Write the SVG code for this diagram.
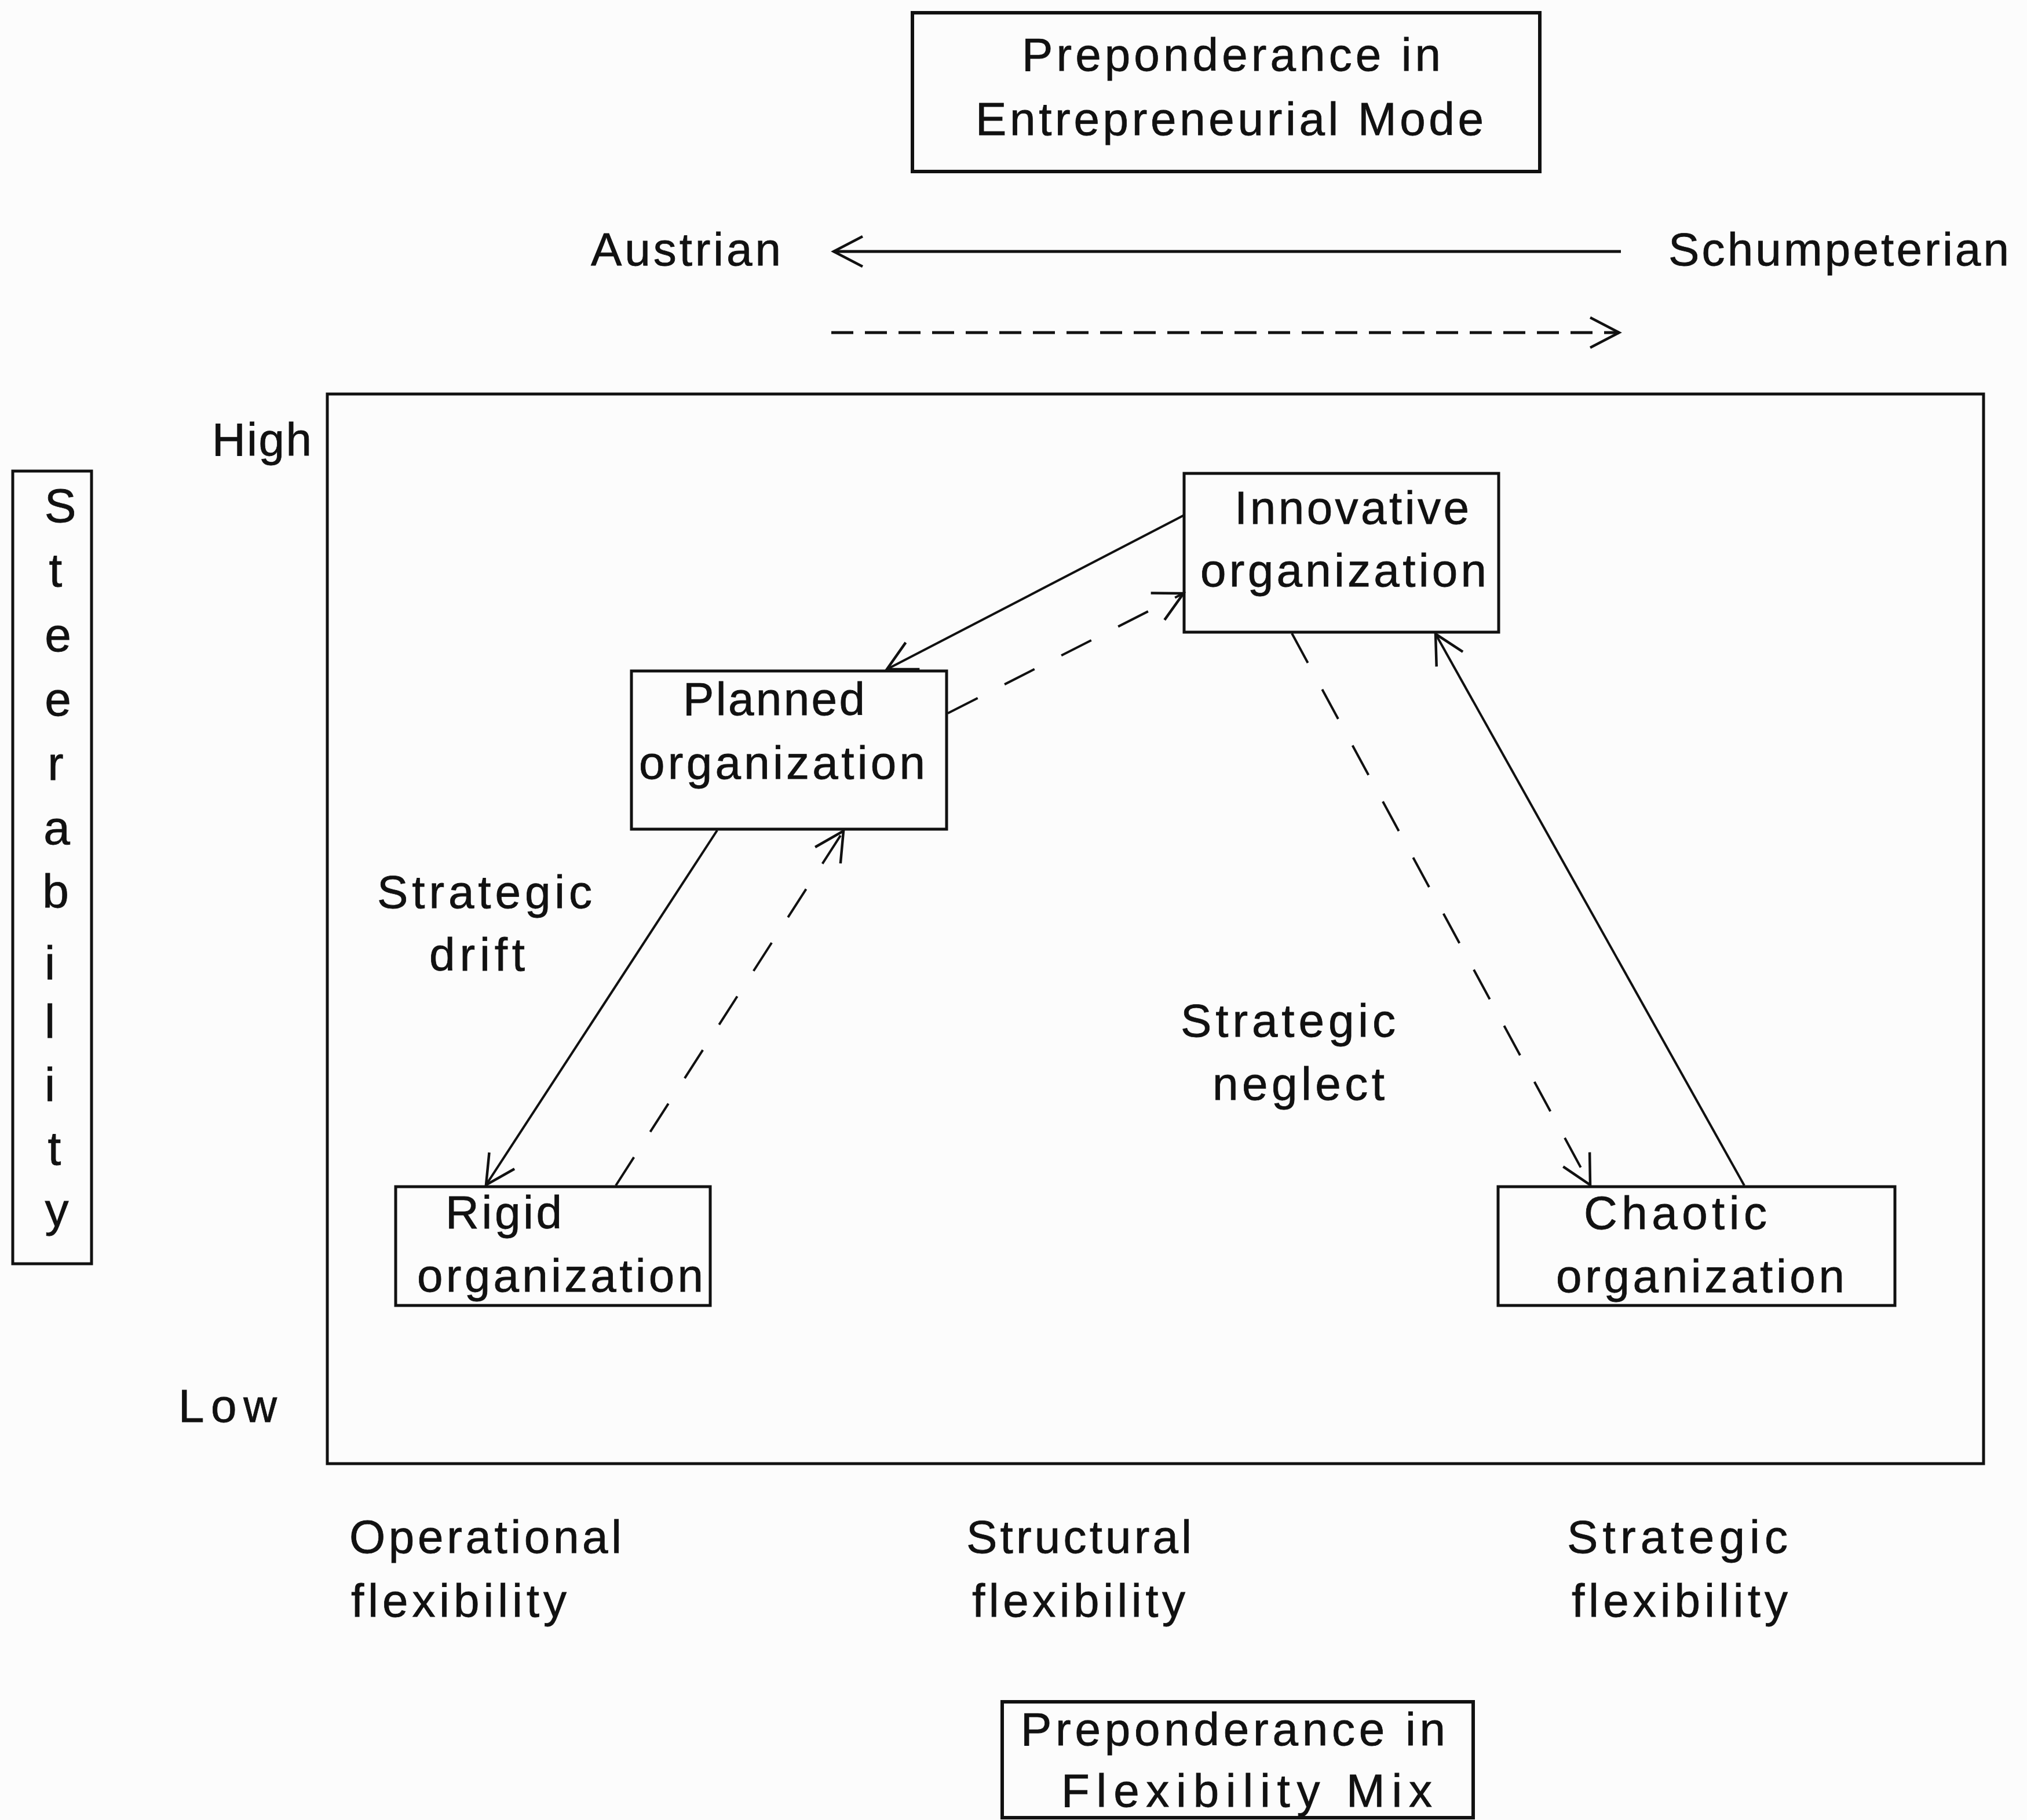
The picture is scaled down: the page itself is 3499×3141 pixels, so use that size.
<svg xmlns="http://www.w3.org/2000/svg" width="3499" height="3141" viewBox="0 0 3499 3141">
  <style>
    .box { fill: none; stroke: #111; stroke-width: 5; }
    .heavy { stroke-width: 6; }
    .lbl { font-family: "Liberation Sans", Arial, sans-serif; font-size: 80px; fill: #111; stroke: #111; stroke-width: 0.8; }
    .vert { font-size: 82px; text-anchor: middle; }
    .link { fill: none; stroke: #111; stroke-width: 4; }
    .axisline { fill: none; stroke: #111; stroke-width: 5; }
    .dash { stroke-dasharray: 58 52; }
    .dashh { stroke-dasharray: 38 20; }
  </style>
  <defs>
    <marker id="open" markerUnits="userSpaceOnUse" viewBox="-60 -35 70 70" markerWidth="70" markerHeight="70" refX="0" refY="0" orient="auto">
      <path d="M-50,-26 L0,0 L-50,26" fill="none" stroke="#111" stroke-width="4.5" stroke-dasharray="none" stroke-linejoin="miter"/>
    </marker>
  </defs>

  <rect width="3499" height="3141" fill="#fcfcfc"/>

  <!-- top heading box -->
  <g id="entrepreneurial-mode">
    <rect class="box heavy" x="1575" y="22" width="1083" height="274"/>
    <text class="lbl" x="1764" y="122" textLength="723" lengthAdjust="spacing">Preponderance in</text>
    <text class="lbl" x="1684" y="233" textLength="877" lengthAdjust="spacing">Entrepreneurial Mode</text>
  </g>

  <g id="austrian">
    <text class="lbl" x="1020" y="458" textLength="328" lengthAdjust="spacing">Austrian</text>
  </g>
  <g id="schumpeterian">
    <text class="lbl" x="2880" y="458" textLength="588" lengthAdjust="spacing">Schumpeterian</text>
  </g>

  <!-- main grid frame with stability scale -->
  <g id="grid">
    <rect class="box" x="565" y="680" width="2859" height="1846"/>
    <text class="lbl" x="366" y="786" textLength="172" lengthAdjust="spacing">High</text>
    <text class="lbl" x="308" y="2454" textLength="170" lengthAdjust="spacing">Low</text>
  </g>

  <g id="stability">
    <rect class="box" x="22" y="813" width="136" height="1368"/>
    <text class="lbl vert" x="104" y="901">S</text>
    <text class="lbl vert" x="96" y="1012">t</text>
    <text class="lbl vert" x="100" y="1124">e</text>
    <text class="lbl vert" x="100" y="1235">e</text>
    <text class="lbl vert" x="96" y="1346">r</text>
    <text class="lbl vert" x="98" y="1457">a</text>
    <text class="lbl vert" x="96" y="1566">b</text>
    <text class="lbl vert" x="86" y="1690">i</text>
    <text class="lbl vert" x="86" y="1791">l</text>
    <text class="lbl vert" x="86" y="1900">i</text>
    <text class="lbl vert" x="94" y="2010">t</text>
    <text class="lbl vert" x="98" y="2116">y</text>
  </g>

  <!-- organization types -->
  <g id="innovative">
    <rect class="box" x="2044" y="817" width="543" height="274"/>
    <text class="lbl" x="2131" y="904" textLength="405" lengthAdjust="spacing">Innovative</text>
    <text class="lbl" x="2072" y="1012" textLength="494" lengthAdjust="spacing">organization</text>
  </g>

  <g id="planned">
    <rect class="box" x="1090" y="1158" width="544" height="273"/>
    <text class="lbl" x="1179" y="1234" textLength="314" lengthAdjust="spacing">Planned</text>
    <text class="lbl" x="1103" y="1344" textLength="494" lengthAdjust="spacing">organization</text>
  </g>

  <g id="rigid">
    <rect class="box" x="683" y="2048" width="543" height="205"/>
    <text class="lbl" x="769" y="2120" textLength="201" lengthAdjust="spacing">Rigid</text>
    <text class="lbl" x="720" y="2229" textLength="494" lengthAdjust="spacing">organization</text>
  </g>

  <g id="chaotic">
    <rect class="box" x="2586" y="2048" width="685" height="205"/>
    <text class="lbl" x="2734" y="2121" textLength="316" lengthAdjust="spacing">Chaotic</text>
    <text class="lbl" x="2686" y="2230" textLength="498" lengthAdjust="spacing">organization</text>
  </g>

  <!-- region labels -->
  <g id="strategic-drift">
    <text class="lbl" x="651" y="1567" textLength="371" lengthAdjust="spacing">Strategic</text>
    <text class="lbl" x="741" y="1675" textLength="165" lengthAdjust="spacing">drift</text>
  </g>
  <g id="strategic-neglect">
    <text class="lbl" x="2038" y="1789" textLength="371" lengthAdjust="spacing">Strategic</text>
    <text class="lbl" x="2093" y="1898" textLength="297" lengthAdjust="spacing">neglect</text>
  </g>

  <!-- flexibility axis labels -->
  <g id="operational-flexibility">
    <text class="lbl" x="603" y="2680" textLength="470" lengthAdjust="spacing">Operational</text>
    <text class="lbl" x="606" y="2790" textLength="372" lengthAdjust="spacing">flexibility</text>
  </g>
  <g id="structural-flexibility">
    <text class="lbl" x="1668" y="2680" textLength="389" lengthAdjust="spacing">Structural</text>
    <text class="lbl" x="1678" y="2790" textLength="368" lengthAdjust="spacing">flexibility</text>
  </g>
  <g id="strategic-flexibility">
    <text class="lbl" x="2705" y="2680" textLength="381" lengthAdjust="spacing">Strategic</text>
    <text class="lbl" x="2713" y="2790" textLength="373" lengthAdjust="spacing">flexibility</text>
  </g>

  <!-- bottom heading box -->
  <g id="flexibility-mix">
    <rect class="box heavy" x="1730" y="2937" width="813" height="200"/>
    <text class="lbl" x="1762" y="3012" textLength="733" lengthAdjust="spacing">Preponderance in</text>
    <text class="lbl" x="1832" y="3118" textLength="640" lengthAdjust="spacing">Flexibility Mix</text>
  </g>

  <!-- connectors -->
  <g id="connectors">
    <line class="axisline" x1="2798" y1="434" x2="1439" y2="434" marker-end="url(#open)"/>
    <line class="axisline dashh" x1="1435" y1="574" x2="2795" y2="574" marker-end="url(#open)"/>

    <line class="link" x1="2044" y1="889" x2="1531" y2="1155" marker-end="url(#open)"/>
    <line class="link dash" x1="1636" y1="1231" x2="2043" y2="1024" marker-end="url(#open)"/>
    <line class="link" x1="1238" y1="1433" x2="839" y2="2045" marker-end="url(#open)"/>
    <line class="link dash" x1="1063" y1="2046" x2="1456" y2="1434" marker-end="url(#open)"/>
    <line class="link dash" x1="2230" y1="1093" x2="2745" y2="2045" marker-end="url(#open)"/>
    <line class="link" x1="3011" y1="2046" x2="2478" y2="1094" marker-end="url(#open)"/>
  </g>
</svg>
